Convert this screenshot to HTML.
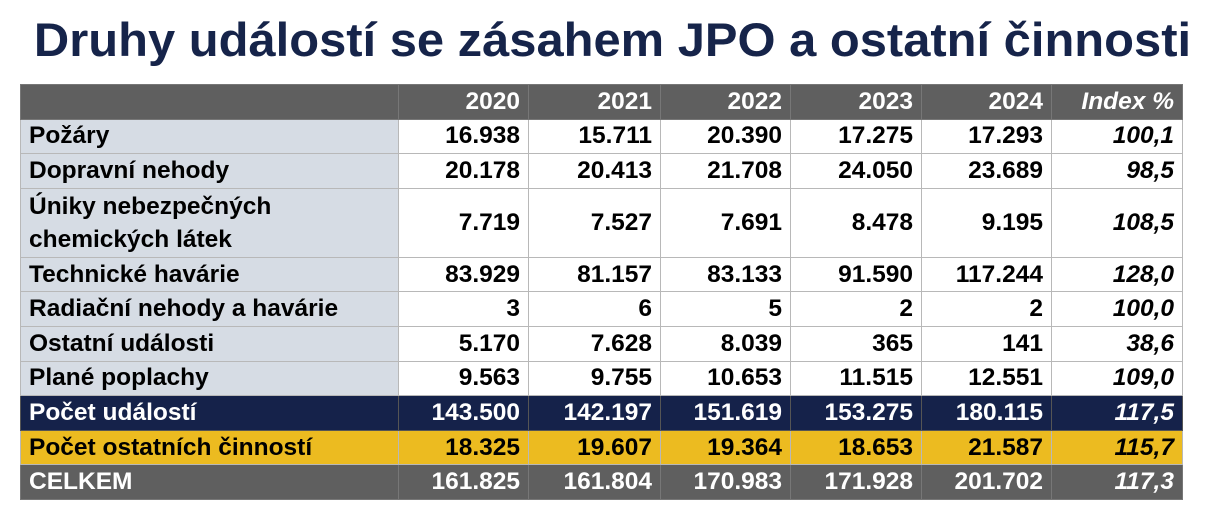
<!DOCTYPE html>
<html><head><meta charset="utf-8">
<style>
body{margin:0;width:1215px;height:525px;background:#fff;position:relative;overflow:hidden;font-family:"Liberation Sans",Arial,sans-serif;}
#title{position:absolute;left:5px;top:12px;width:1215px;text-align:center;font-weight:bold;font-size:47px;color:#16244a;white-space:nowrap;transform:scaleX(1.04);transform-origin:center;}
table{position:absolute;left:20px;top:84px;border-collapse:collapse;table-layout:fixed;font-weight:bold;font-size:24.5px;}
td{border:1px solid #b8b8b8;padding:0 8px;height:34px;text-align:right;white-space:nowrap;line-height:26px;box-sizing:border-box;}
tr{height:34.6px;}
td.l{text-align:left;background:#d6dce4;}
tr.h td{background:#5f5f5f;color:#fff;border-color:#777;}
tr.n td{background:#15224a;color:#fff;border-color:#555;}
tr.y td{background:#ecbb20;color:#000;}
tr.g td{background:#5f5f5f;color:#fff;border-color:#777;}
td.i{font-style:italic;}
tr.tall{height:69px;}
tr.tall td{height:69px;}
tr.tall td.l{line-height:33px;}
</style></head><body>
<div id="title">Druhy událostí se zásahem JPO a ostatní činnosti</div>
<table>
<colgroup><col style="width:378px"><col style="width:130px"><col style="width:132px"><col style="width:130px"><col style="width:131px"><col style="width:130px"><col style="width:131px"></colgroup>
<tr class="h"><td></td><td>2020</td><td>2021</td><td>2022</td><td>2023</td><td>2024</td><td class="i">Index %</td></tr>
<tr><td class="l">Požáry</td><td>16.938</td><td>15.711</td><td>20.390</td><td>17.275</td><td>17.293</td><td class="i">100,1</td></tr>
<tr><td class="l">Dopravní nehody</td><td>20.178</td><td>20.413</td><td>21.708</td><td>24.050</td><td>23.689</td><td class="i">98,5</td></tr>
<tr class="tall"><td class="l">Úniky nebezpečných<br>chemických látek</td><td>7.719</td><td>7.527</td><td>7.691</td><td>8.478</td><td>9.195</td><td class="i">108,5</td></tr>
<tr><td class="l">Technické havárie</td><td>83.929</td><td>81.157</td><td>83.133</td><td>91.590</td><td>117.244</td><td class="i">128,0</td></tr>
<tr><td class="l">Radiační nehody a havárie</td><td>3</td><td>6</td><td>5</td><td>2</td><td>2</td><td class="i">100,0</td></tr>
<tr><td class="l">Ostatní události</td><td>5.170</td><td>7.628</td><td>8.039</td><td>365</td><td>141</td><td class="i">38,6</td></tr>
<tr><td class="l">Plané poplachy</td><td>9.563</td><td>9.755</td><td>10.653</td><td>11.515</td><td>12.551</td><td class="i">109,0</td></tr>
<tr class="n"><td class="l" style="background:#15224a">Počet událostí</td><td>143.500</td><td>142.197</td><td>151.619</td><td>153.275</td><td>180.115</td><td class="i">117,5</td></tr>
<tr class="y"><td class="l" style="background:#ecbb20">Počet ostatních činností</td><td>18.325</td><td>19.607</td><td>19.364</td><td>18.653</td><td>21.587</td><td class="i">115,7</td></tr>
<tr class="g"><td class="l" style="background:#5f5f5f">CELKEM</td><td>161.825</td><td>161.804</td><td>170.983</td><td>171.928</td><td>201.702</td><td class="i">117,3</td></tr>
</table>
</body></html>
